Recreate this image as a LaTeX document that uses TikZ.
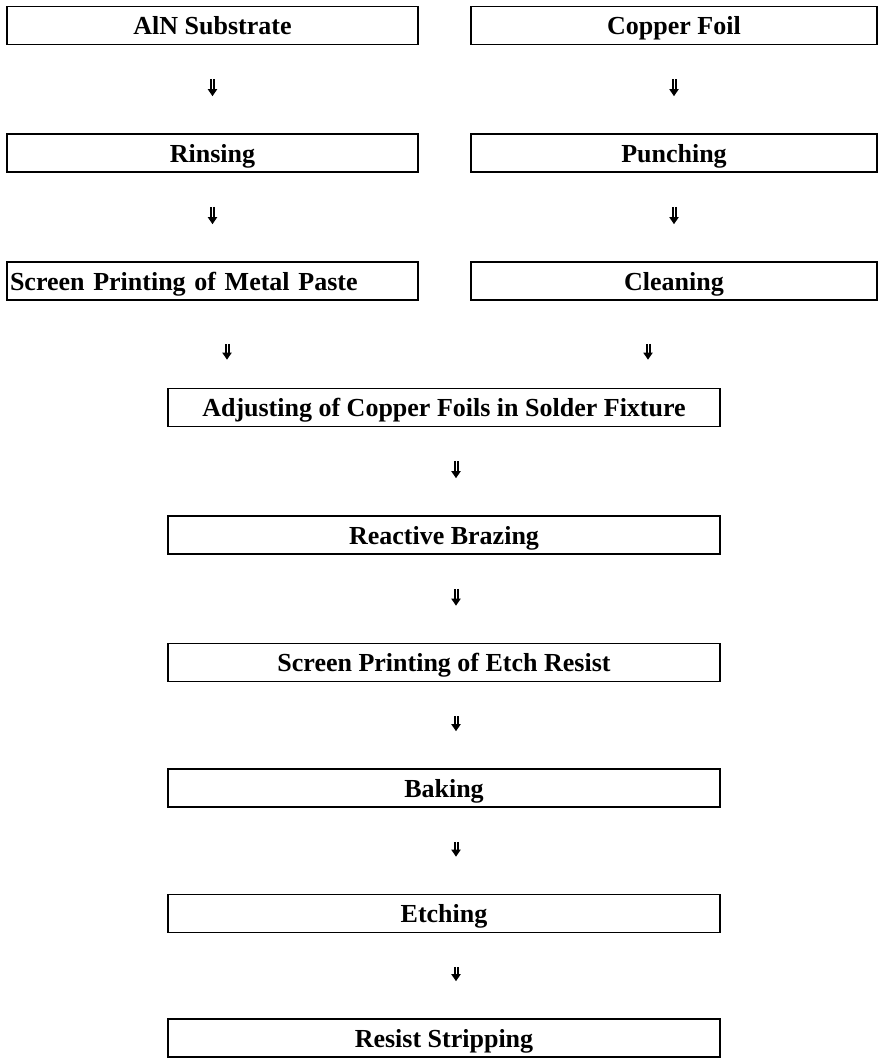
\documentclass[tikz,border=0pt]{standalone}
\usepackage{fontspec}
\setmainfont{Liberation Serif}
\usetikzlibrary{arrows.meta}
\begin{document}
\begin{tikzpicture}[x=1pt,y=-1pt,
  box/.style={draw, line width=1.6pt, minimum height=38pt, inner sep=0pt,
    text height=20pt, text depth=2pt,
    font=\fontsize{26}{26}\selectfont\bfseries},
  lbox/.style={box, minimum width=411pt},
  rbox/.style={box, minimum width=406pt},
  cbox/.style={box, minimum width=552pt},
  dar/.style={double, double distance=1pt, line width=2pt,
    -{Triangle[length=7pt,width=9pt]},
    shorten <=34pt, shorten >=37pt}]
\useasboundingbox (0,0) rectangle (879,1058);
\node[lbox] (aln) at (212.5,25.5) {AlN Substrate};
\node[rbox] (cu)  at (674,25.5) {Copper Foil};
\node[lbox] (rin) at (212.5,153) {Rinsing};
\node[rbox] (pun) at (674,153) {Punching};
\node[lbox, text width=405pt, align=left] (scr) at (212.5,281) {Screen Printing of Metal Paste};
\node[rbox] (cln) at (674,281) {Cleaning};
\node[cbox] (adj) at (444,407.5) {Adjusting of Copper Foils in Solder Fixture};
\node[cbox] (rb)  at (444,535) {Reactive Brazing};
\node[cbox] (er)  at (444,662.5) {Screen Printing of Etch Resist};
\node[cbox] (bk)  at (444,788) {Baking};
\node[cbox] (et)  at (444,913.5) {Etching};
\node[cbox] (rs)  at (444,1038) {Resist Stripping};
\coordinate (lx) at (227,0);
\coordinate (rx) at (648,0);
\coordinate (cx) at (456,0);
\draw[dar] (aln) -- (rin);
\draw[dar] (cu) -- (pun);
\draw[dar] (rin) -- (scr);
\draw[dar] (pun) -- (cln);
\draw[dar, shorten <=43pt, shorten >=28pt] (scr.south -| lx) -- (adj.north -| lx);
\draw[dar, shorten <=43pt, shorten >=28pt] (cln.south -| rx) -- (adj.north -| rx);
\draw[dar] (adj.south -| cx) -- (rb.north -| cx);
\draw[dar] (rb.south -| cx) -- (er.north -| cx);
\draw[dar] (er.south -| cx) -- (bk.north -| cx);
\draw[dar] (bk.south -| cx) -- (et.north -| cx);
\draw[dar] (et.south -| cx) -- (rs.north -| cx);
\end{tikzpicture}
\end{document}
